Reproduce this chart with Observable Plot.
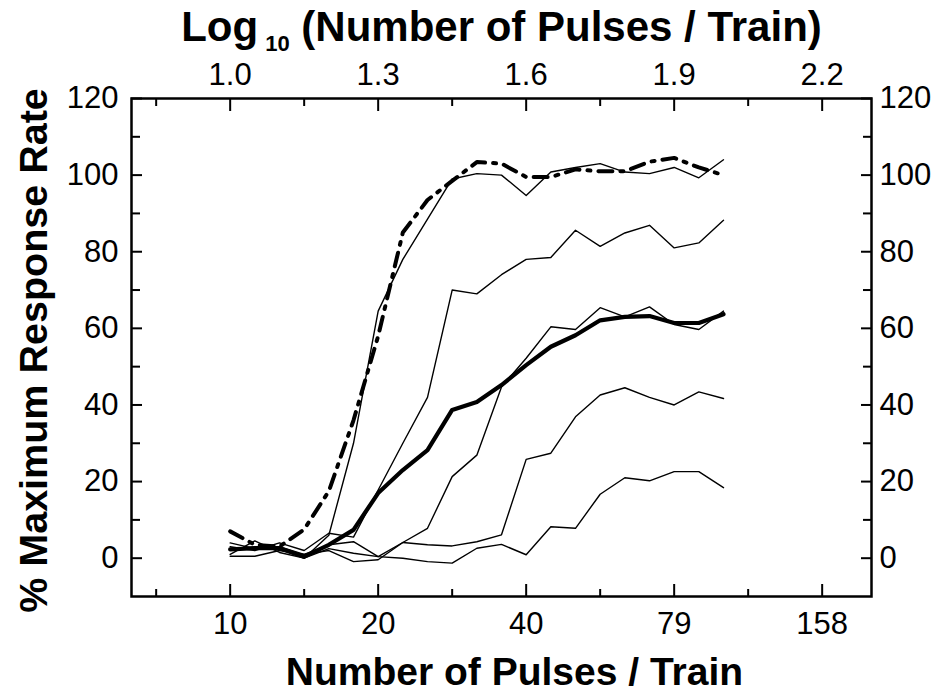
<!DOCTYPE html>
<html><head><meta charset="utf-8">
<script src="https://cdn.jsdelivr.net/npm/d3@7"></script>
<script src="https://cdn.jsdelivr.net/npm/@observablehq/plot@0.6"></script>
<style>body{margin:0;background:#fff}</style>
</head><body><div id="chart"></div>
<script>
// x positions: log10(number of pulses / train)
const logPulses = [1.00,1.05,1.10,1.15,1.20,1.25,1.30,1.35,1.40,1.45,1.50,1.55,1.60,1.65,1.70,1.75,1.80,1.85,1.90,1.95,2.00];

// five individual thin curves
const thinA = [1, 4.5, 1.5, 0, 6, 30, 64.5, 78, 88.5, 99, 100.4, 100, 94.7, 100.8, 102, 103, 100.8, 100.4, 102, 99.3, 104];
const thinB = [3, 2, 4, 2, 6.5, 5.5, 17.8, 30, 42, 70, 69, 74, 78, 78.5, 85.6, 81.4, 84.9, 86.9, 81, 82.3, 88.2];
const thinC = [0.5, 0.5, 2, 1, 2, -0.9, -0.4, 4.1, 7.8, 21.3, 26.9, 44.7, 52.2, 60.4, 59.7, 65.4, 63, 65.6, 61, 59.7, 64.5];
const thinD = [2.5, 3, 3, 1, 3.5, 4.3, 0.4, 4.1, 3.5, 3.2, 4.3, 6.1, 25.8, 27.4, 36.9, 42.6, 44.5, 42, 40, 43.4, 41.7];
const thinE = [4, 2.5, 2.5, 0, 2.5, 1.3, 0.4, 0, -0.9, -1.3, 2.6, 3.6, 0.9, 8.2, 7.8, 16.7, 21, 20.2, 22.6, 22.6, 18.4];
// thick solid curve
const thickMean = [2.3, 2.6, 2.6, 0.4, 3.5, 7.4, 17, 23, 28.2, 38.7, 40.8, 45.2, 50.4, 55.2, 58.2, 62.1, 63, 63.2, 61.4, 61.4, 63.7];
// thick dash-dot curve
const dashDot = [7, 3.5, 3, 7.5, 17.5, 36, 58, 85, 93.5, 98.5, 103.4, 103, 99.5, 99.5, 101.5, 101, 101, 103.5, 104.5, 102, 100];

// axis ticks
const majorLog = [1.0, 1.3, 1.6, 1.9, 2.2];
const minorLog = [0.85, 1.15, 1.45, 1.75, 2.05];
const bottomLabels = ["10", "20", "40", "79", "158"];
const topLabels = ["1.0", "1.3", "1.6", "1.9", "2.2"];
const yMajor = [0, 20, 40, 60, 80, 100, 120];
const yMinor = [10, 30, 50, 70, 90, 110];

const titleParts = ["Log", "10", " (Number of Pulses / Train)"];
const xTitle = "Number of Pulses / Train";
const yTitle = "% Maximum Response Rate";

const toRows = (vals, name) => vals.map((v, i) => ({x: logPulses[i], y: v, series: name}));
const thinRows = [
  ...toRows(thinA, "A"), ...toRows(thinB, "B"), ...toRows(thinC, "C"),
  ...toRows(thinD, "D"), ...toRows(thinE, "E")
];
const meanRows = toRows(thickMean, "mean");
const dashRows = toRows(dashDot, "dash");

const topTitleText = titleParts.join("");

const plot = Plot.plot({
  width: 942, height: 694,
  marginLeft: 131, marginRight: 71, marginTop: 98, marginBottom: 98,
  style: {fontFamily: "'Liberation Sans', Arial, Helvetica, sans-serif", fontSize: "31px", color: "black", background: "white"},
  x: {domain: [0.8, 2.3]},
  y: {domain: [-10, 120]},
  marks: [
    // ticks (inward)
    Plot.axisX(majorLog, {anchor: "bottom", tickSize: 12, dy: -12, fill: "none", strokeWidth: 2, label: null}),
    Plot.axisX(minorLog, {anchor: "bottom", tickSize: 7, dy: -7, fill: "none", strokeWidth: 2, label: null}),
    Plot.axisX(majorLog, {anchor: "top", tickSize: 12, dy: 12, fill: "none", strokeWidth: 2, label: null}),
    Plot.axisX(minorLog, {anchor: "top", tickSize: 7, dy: 7, fill: "none", strokeWidth: 2, label: null}),
    Plot.axisY(yMajor, {anchor: "left", tickSize: 11, dx: 11, fill: "none", strokeWidth: 2, label: null}),
    Plot.axisY(yMinor, {anchor: "left", tickSize: 9, dx: 9, fill: "none", strokeWidth: 2, label: null}),
    Plot.axisY(yMajor, {anchor: "right", tickSize: 11, dx: -11, fill: "none", strokeWidth: 2, label: null}),
    Plot.axisY(yMinor, {anchor: "right", tickSize: 9, dx: -9, fill: "none", strokeWidth: 2, label: null}),
    // tick labels
    Plot.axisX(majorLog, {anchor: "bottom", tickSize: 0, tickPadding: 15, label: null, tickFormat: d => bottomLabels[majorLog.indexOf(d)]}),
    Plot.axisX(majorLog, {anchor: "top", tickSize: 0, tickPadding: 14, label: null, tickFormat: d => topLabels[majorLog.indexOf(d)]}),
    Plot.axisY(yMajor, {anchor: "left", tickSize: 0, tickPadding: 13, label: null, tickFormat: d => String(d)}),
    Plot.axisY(yMajor, {anchor: "right", tickSize: 0, tickPadding: 8, label: null, tickFormat: d => String(d)}),
    Plot.frame({stroke: "black", strokeWidth: 2.5}),
    // data
    Plot.line(thinRows, {x: "x", y: "y", z: "series", stroke: "black", strokeWidth: 1.4}),
    Plot.line(meanRows, {x: "x", y: "y", stroke: "black", strokeWidth: 4.2}),
    Plot.line(dashRows, {x: "x", y: "y", stroke: "black", strokeWidth: 4, strokeDasharray: "14 8 3 8"}),
    // titles
    Plot.text([topTitleText], {text: d => d, frameAnchor: "top", dy: -58, lineAnchor: "bottom", textAnchor: "middle", fontSize: 42, fontWeight: "bold"}),
    Plot.text([xTitle], {text: d => d, frameAnchor: "bottom", dx: 13, dy: 88, lineAnchor: "bottom", textAnchor: "middle", fontSize: 39, fontWeight: "bold"}),
    Plot.text([yTitle], {text: d => d, frameAnchor: "left", rotate: -90, dx: -97, dy: 3, lineAnchor: "middle", textAnchor: "middle", fontSize: 39.5, fontWeight: "bold"})
  ]
});

// subscript for "Log 10"
d3.select(plot).selectAll("text").filter(function () { return this.textContent === topTitleText; }).each(function () {
  const t = d3.select(this);
  t.selectAll("*").remove();
  t.text(null);
  t.append("tspan").text(titleParts[0]);
  t.append("tspan").attr("font-size", 22).attr("dx", 7).attr("dy", 10).text(titleParts[1]);
  t.append("tspan").attr("dy", -10).text(titleParts[2]);
});

document.getElementById("chart").appendChild(plot);
</script>
</body></html>
